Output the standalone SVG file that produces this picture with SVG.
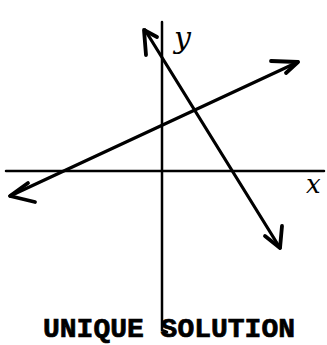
<svg xmlns="http://www.w3.org/2000/svg" width="327" height="345" viewBox="0 0 327 345">
<style>
.ax{stroke:#000;stroke-width:2.5;fill:none;stroke-linecap:round}
.ln{stroke:#000;stroke-width:3.2;fill:none;stroke-linecap:round;stroke-linejoin:round}
.hd{stroke:#000;stroke-width:3.8;fill:none;stroke-linecap:round;stroke-linejoin:round}
.lab{font-family:"DejaVu Serif",serif;font-style:italic;fill:#000}
.title{font-family:"Liberation Mono","Courier New",monospace;font-weight:bold;font-size:28px;fill:#000;stroke:#000;stroke-width:0.7}
</style>
<rect width="327" height="345" fill="#fff"/>
<g id="axes">
<path class="ax" d="M6,171 H324"/>
<path class="ax" d="M162,22 V330 L167,332"/>
</g>
<g id="connectors">
<g id="line1">
<path class="ln" d="M10,196 L298,62"/>
<path class="hd" d="M28,183 L10,196 L35,202"/>
<path class="hd" d="M271,61 L298,62 L286,73"/>
</g>
<g id="line2">
<path class="ln" d="M145,30 L280,248"/>
<path class="hd" d="M146,55 L144,30 L157,37"/>
<path class="hd" d="M282,226 L280,248 L265,236"/>
</g>
</g>
<g id="label-y"><text class="lab" x="174" y="48" font-size="30">y</text></g>
<g id="label-x"><text class="lab" x="306" y="193" font-size="26" font-style="normal" font-family="Liberation Sans,sans-serif">x</text></g>
<g id="title"><text class="title" x="169" y="337" text-anchor="middle">UNIQUE SOLUTION</text></g>
</svg>
